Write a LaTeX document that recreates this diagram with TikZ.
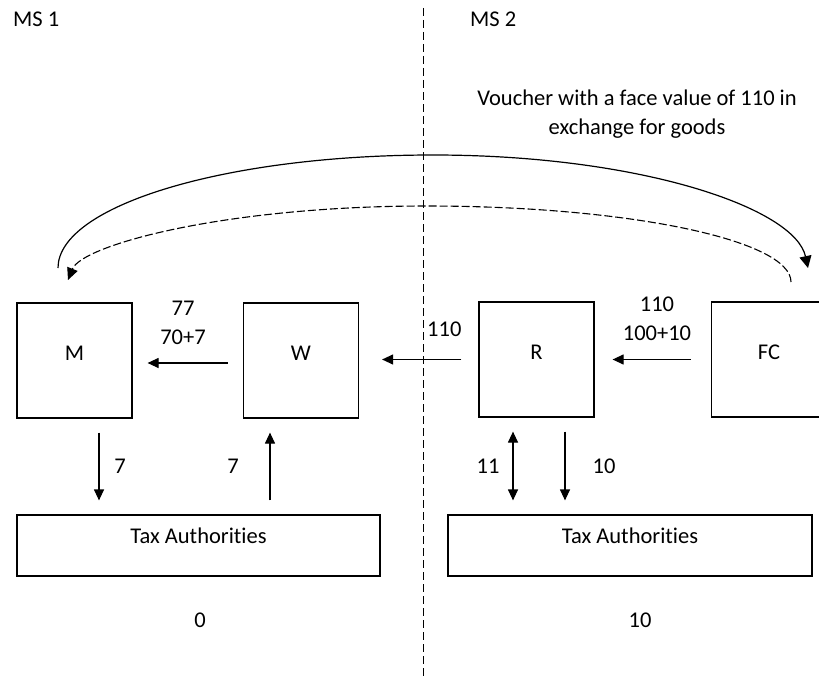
\documentclass[tikz,border=0pt]{standalone}
\usepackage{fontspec}
\setmainfont{Carlito}[Ligatures={NoCommon}]
\usetikzlibrary{arrows.meta}
\begin{document}
\begin{tikzpicture}[x=1pt,y=-1pt,
  every node/.style={font=\fontsize{22.5}{29}\selectfont, inner sep=0pt},
  box/.style={draw, line width=1.2pt, minimum width=115pt, minimum height=115pt, text height=0pt, text depth=0pt},
  taxbox/.style={draw, line width=1.2pt, minimum height=61pt, text height=0pt, text depth=5pt},
  arr/.style={line width=1.2pt, -{Triangle[length=11pt,width=10pt]}},
  darr/.style={line width=1.2pt, {Triangle[length=11pt,width=10pt]}-{Triangle[length=11pt,width=10pt]}},
  curvearr/.style={line width=1.2pt, -{Triangle[length=12pt,width=12pt]}},
  divider/.style={line width=1pt, dash pattern=on 8pt off 4pt},
  dcurve/.style={line width=1.1pt, dash pattern=on 8pt off 3pt, -{Triangle[length=12pt,width=11pt]}},
  lbl/.style={anchor=base}
]
\clip (0,0) rectangle (819,677);
\fill[white] (0,0) rectangle (819,677);

% divider
\coordinate (dtop) at (423,8);
\coordinate (dbot) at (423,677);
\draw[divider] (dtop) -- (dbot);

% headers
\node[lbl, anchor=base west] (ms1) at (13,27) {MS 1};
\node[lbl, anchor=base west] (ms2) at (470,27) {MS 2};
\node[lbl] (v1) at (637,105) {Voucher with a face value of 110 in};
\node[lbl] (v2) at (637,134) {exchange for goods};

% boxes
\node[box] (M) at (74.5,360.5) {M};
\node[box] (W) at (301,360.5) {W};
\node[box] (R) at (536.5,359.5) {R};
\node[box] (FC) at (769,359.5) {FC};
\node[taxbox, minimum width=363pt] (T1) at (198.5,545.5) {Tax Authorities};
\node[taxbox, minimum width=364pt] (T2) at (630,545.5) {Tax Authorities};

% horizontal flows
\draw[arr, shorten <=15pt, shorten >=15pt] ([yshift=-2.5pt]W.west) -- ([yshift=-2.5pt]M.east);
\draw[arr, shorten <=17pt, shorten >=23pt] (R.west) -- (W.east |- R.west);
\draw[arr, shorten <=20pt, shorten >=18pt] (FC.west) -- (R.east);

\node[lbl] (l77) at (183,315) {77};
\node[lbl] (l707) at (183,344) {70+7};
\node[lbl, anchor=base west] (l110a) at (427,336) {110};
\node[lbl] (l110b) at (657,311) {110};
\node[lbl] (l10010) at (657,340) {100+10};

% vertical flows
\draw[arr, shorten <=14pt, shorten >=14pt] ([xshift=24.5pt]M.south) -- ([xshift=24.5pt]M.south |- T1.north);
\draw[arr, shorten <=14pt, shorten >=14pt] ([xshift=-31pt]W.south |- T1.north) -- ([xshift=-31pt]W.south);
\draw[darr, shorten <=14pt, shorten >=14pt] ([xshift=-23.5pt]R.south) -- ([xshift=-23.5pt]R.south |- T2.north);
\draw[arr, shorten <=14pt, shorten >=14pt] ([xshift=28.5pt]R.south) -- ([xshift=28.5pt]R.south |- T2.north);

\node[lbl] (n7a) at (120,473) {7};
\node[lbl] (n7b) at (233,473) {7};
\node[lbl] (n11) at (488,473) {11};
\node[lbl] (n10) at (604,473) {10};

\node[lbl] (b0) at (200,627) {0};
\node[lbl] (b10) at (640,627) {10};

% voucher curves
\coordinate (cs) at (58,268);
\coordinate (ce) at (808,268);
\draw[curvearr] (cs) .. controls (58,205.6) and (225.9,155) .. (433,155)
  .. controls (640,155) and (795,208) .. (ce);
\coordinate (ds) at (791,282);
\coordinate (de) at (68,280);
\draw[dcurve] (ds) .. controls (791,240) and (627.8,206) .. (426.5,206)
  .. controls (225,206) and (82,245) .. (de);
\end{tikzpicture}
\end{document}
